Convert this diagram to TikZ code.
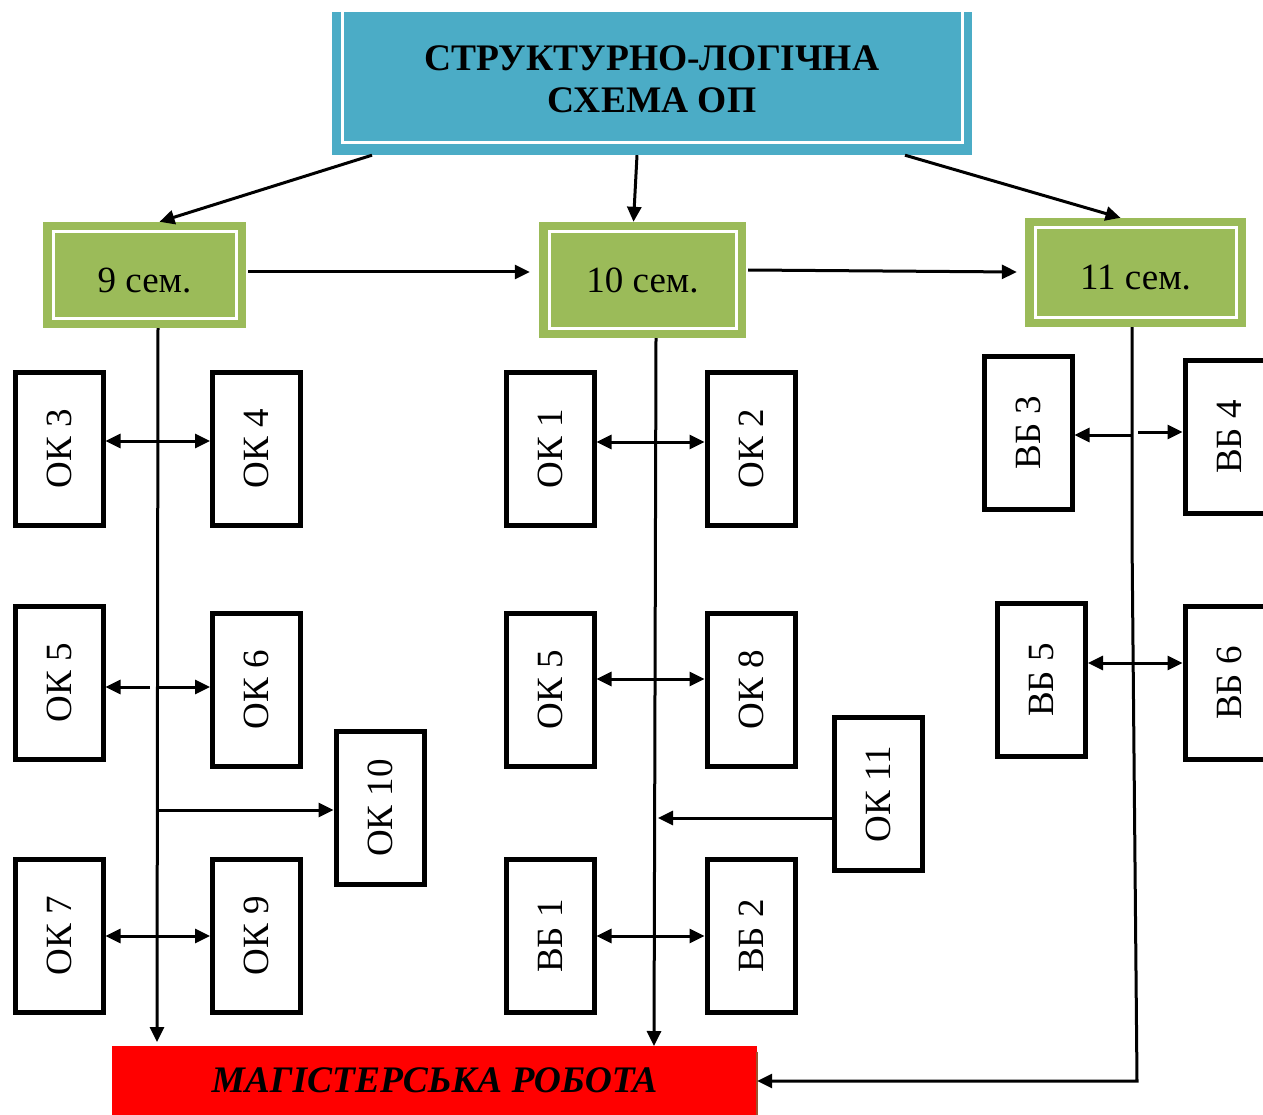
\documentclass[tikz,border=0pt]{standalone}
\usepackage{fontspec}
\usetikzlibrary{arrows.meta}
\setmainfont{Liberation Serif}
\definecolor{titleblue}{HTML}{4BACC6}
\definecolor{semgreen}{HTML}{9BBB59}
\definecolor{magred}{HTML}{FF0000}
\definecolor{edgebrown}{HTML}{A0522D}
\tikzset{
  subj/.style={draw=black, line width=5pt, fill=white, minimum width=88pt,
    minimum height=153pt, inner sep=0pt, font=\fontsize{37}{42}\selectfont},
  sem/.style={fill=semgreen, inner sep=0pt, font=\fontsize{37}{42}\selectfont,
    text height=35pt, text depth=0pt,
    path picture={\draw[white,line width=3pt]
      ([shift={(10pt,-10pt)}]path picture bounding box.north west) rectangle
      ([shift={(-10pt,10pt)}]path picture bounding box.south east);}},
  link/.style={line width=3pt, >={Triangle[length=15pt,width=14pt]}},
}
\begin{document}
\begin{tikzpicture}[x=1pt,y=-1pt]
            \useasboundingbox (0,0) rectangle (1263,1115);

            % title and semesters
            \node[fill=titleblue, minimum width=640pt, minimum height=143pt, inner sep=0pt,
              align=center, font=\bfseries\fontsize{37.5}{42}\selectfont, text depth=8pt,
              path picture={\draw[white,line width=3pt]
                ([xshift=10pt]path picture bounding box.north west) |-
                ([yshift=12pt]path picture bounding box.south) -|
                ([xshift=-10pt]path picture bounding box.north east);}]
              (title) at (652,83.5) {СТРУКТУРНО-ЛОГІЧНА\\СХЕМА ОП};
            \node[sem, minimum width=203pt, minimum height=106pt] (sem9) at (144.5,275) {9 сем.};
            \node[sem, minimum width=207pt, minimum height=116pt, text height=25pt] (sem10) at (642.5,280) {10 сем.};
            \node[sem, minimum width=221pt, minimum height=109pt] (sem11) at (1135.5,272.5) {11 сем.};

            \node[fill=magred, minimum width=645pt, minimum height=69pt, inner sep=0pt,
              font=\bfseries\itshape\fontsize{37.5}{42}\selectfont]
              (mag) at (434.5,1080.5) {МАГІСТЕРСЬКА РОБОТА};
            \draw[edgebrown, line width=2pt] ([yshift=-6pt]mag.north east) -- (mag.south east);

            % 9 semester
            \node[subj] (ok3) at (59,449) {\rotatebox{90}{ОК 3}};
            \node[subj] (ok4) at (256.5,449) {\rotatebox{90}{ОК 4}};
            \node[subj] (ok5) at (59,683) {\rotatebox{90}{ОК 5}};
            \node[subj] (ok6) at (256.5,689.5) {\rotatebox{90}{ОК 6}};
            \node[subj] (ok10) at (380,808) {\rotatebox{90}{ОК 10}};
            \node[subj] (ok7) at (59,936) {\rotatebox{90}{ОК 7}};
            \node[subj] (ok9) at (256.5,936) {\rotatebox{90}{ОК 9}};

            % 10 semester
            \node[subj] (ok1) at (550,449) {\rotatebox{90}{ОК 1}};
            \node[subj] (ok2) at (751,449) {\rotatebox{90}{ОК 2}};
            \node[subj] (ok5b) at (550,689.5) {\rotatebox{90}{ОК 5}};
            \node[subj] (ok8) at (751,689.5) {\rotatebox{90}{ОК 8}};
            \node[subj] (ok11) at (878,794) {\rotatebox{90}{ОК 11}};
            \node[subj] (vb1) at (550,936) {\rotatebox{90}{ВБ 1}};
            \node[subj] (vb2) at (751,936) {\rotatebox{90}{ВБ 2}};

            % 11 semester
            \node[subj] (vb3) at (1028,432.5) {\rotatebox{90}{ВБ 3}};
            \node[subj] (vb4) at (1229,437) {\rotatebox{90}{ВБ 4}};
            \node[subj] (vb5) at (1041.5,680) {\rotatebox{90}{ВБ 5}};
            \node[subj] (vb6) at (1229,683) {\rotatebox{90}{ВБ 6}};

            \draw[link,->] ([xshift=-280pt]title.south) -- ([xshift=15pt]sem9.north);
            \draw[link,->] ([xshift=-15pt]title.south) -- ([xshift=-9pt]sem10.north);
            \draw[link,->] ([xshift=253pt]title.south) -- ([xshift=-15pt]sem11.north);
            \draw[link,->] ([shift={(2pt,3pt)}]sem9.east) -- ([shift={(-9pt,8pt)}]sem10.west);
            \draw[link,->] ([shift={(2pt,10pt)}]sem10.east) -- ([shift={(-8pt,0.5pt)}]sem11.west);

            % trunks
            \coordinate (end9) at (157,1042);
            \coordinate (end10) at (654,1046);
            \coordinate (bend11a) at (1132,538);
            \coordinate (bend11b) at (1137,1081);
            \draw[link,->] ([xshift=13.5pt]sem9.south) -- (end9);
            \draw[link,->] ([xshift=13.5pt]sem10.south) -- (end10);
            \draw[link,->] ([xshift=-3.5pt]sem11.south) -- (bend11a) -- (bend11b) -- (mag.east |- bend11b);

            % branches
            \coordinate (j5) at (158,687);
            \coordinate (j10) at (158,810);
            \coordinate (j11) at (658,818);
            \coordinate (jb3) at (1132,435);
            \coordinate (jb4) at (1138,432);
            \draw[link,<->] ([yshift=8pt]ok3.east) -- ([yshift=8pt]ok4.west);
            \draw[link,->] ([xshift=-8pt]j5) -- (ok5.east |- j5);
            \draw[link,->] (j5) -- (ok6.west |- j5);
            \draw[link,->] (j10) -- (ok10.west |- j10);
            \draw[link,<->] (ok7) -- (ok9);
            \draw[link,<->] ([yshift=7pt]ok1.east) -- ([yshift=7pt]ok2.west);
            \draw[link,<->] ([yshift=10.5pt]ok5b.east) -- ([yshift=10.5pt]ok8.west);
            \draw[link,->] (ok11.west |- j11) -- (j11);
            \draw[link,<->] (vb1) -- (vb2);
            \draw[link,->] (jb3) -- (vb3.east |- jb3);
            \draw[link,->] (jb4) -- (vb4.west |- jb4);
            \draw[link,<->] (vb5.east |- 0,663) -- (vb6.west |- 0,663);
        \end{tikzpicture}
\end{document}
